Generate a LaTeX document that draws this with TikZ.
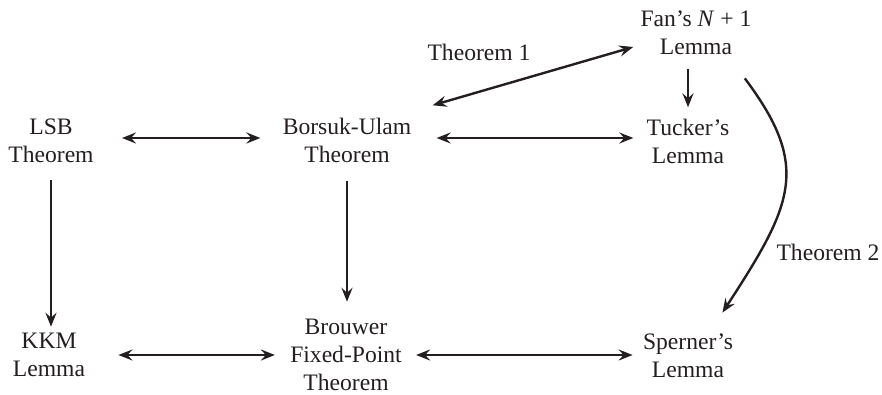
\documentclass[tikz,border=0pt]{standalone}
\usepackage{fontspec}
\setmainfont{Liberation Serif}
\usetikzlibrary{arrows.meta}

\definecolor{ink}{HTML}{231F20}

\begin{document}
\begin{tikzpicture}[x=0.5pt,y=-0.5pt,
		>={Stealth[length=7pt,width=5.5pt,inset=2.5pt]},
		thm/.style={align=center,inner sep=0pt,text=ink,font=\fontsize{11.8}{14}\selectfont},
		conn/.style={line width=1.2pt,draw=ink}]
		\useasboundingbox (0,0) rectangle (882,395);
		% the seven results
		\node[thm](lsb) at (51,141) {LSB\\Theorem};
		\node[thm](bu) at (347,140) {Borsuk-Ulam\\Theorem};
		\node[thm](tu) at (688,141) {Tucker's\\Lemma};
		\node[thm](fan) at (696,33) {Fan's \textit{N} + 1\\Lemma};
		\node[thm](kkm) at (49,355) {KKM\\Lemma};
		\node[thm](br) at (346,355) {Brouwer\\Fixed-Point\\Theorem};
		\node[thm](sp) at (688,356) {Sperner's\\Lemma};
		\node[thm](t1) at (479,52) {Theorem 1};
		\node[thm](t2) at (828,252) {Theorem 2};
		% implications
		\draw[conn,<->,shorten <=14pt,shorten >=11pt] ([yshift=1.5pt]lsb.east) -- ([yshift=1.5pt]lsb.east -| bu.west);
		\draw[conn,<->,shorten <=12.5pt,shorten >=6.5pt] ([yshift=1pt]bu.east) -- ([yshift=1pt]bu.east -| tu.west);
		\draw[conn,<->,shorten <=16.5pt,shorten >=7.5pt] (kkm.east) -- (kkm.east -| br.west);
		\draw[conn,<->,shorten <=7pt,shorten >=5pt] (br.east) -- (br.east -| sp.west);
		\draw[conn,->,shorten <=8.5pt,shorten >=3pt] (lsb.south) -- (lsb.south |- kkm.north);
		\draw[conn,->,shorten <=9pt,shorten >=8.5pt] (bu.south) -- (bu.south |- br.north);
		\draw[conn,->,shorten <=7pt,shorten >=5.5pt] (fan.south -| tu.north) -- (tu.north);
		\draw[conn,<->] ([shift={(-7,14)}]fan.west) -- ([shift={(21,-12)}]bu.north east);
		\draw[conn,->] ([shift={(-7,23)}]fan.south east) .. controls +(66,88) and +(71,-109) .. ([shift={(-11,-21)}]sp.north east);
	\end{tikzpicture}
\end{document}
